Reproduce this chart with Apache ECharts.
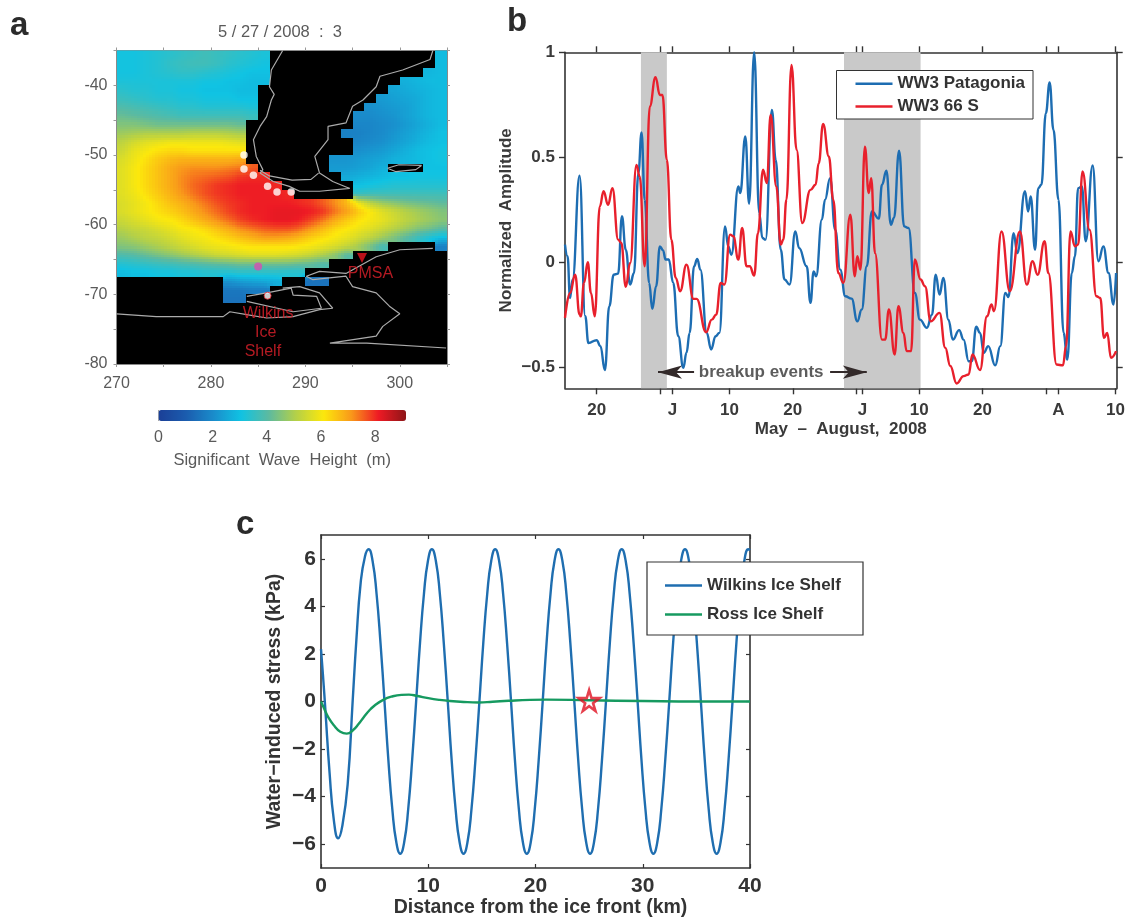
<!DOCTYPE html>
<html><head><meta charset="utf-8">
<style>html,body{margin:0;padding:0;background:#fff}#c{width:1129px;height:919px;filter:blur(0.55px)}</style>
<script src="https://cdn.jsdelivr.net/npm/echarts@6/dist/echarts.min.js"></script>
</head><body><div id="c"></div>
<script>
const _ = null;
// Panel a: significant wave height (m), 1.25 degree cells, north to south, west to east; null is land
const waveRows = [
[3.1,3.1,3.2,3.3,3.4,3.5,3.6,3.7,3.6,3.5,3.4,3.3,3.2,_,_,_,_,_,_,_,_,_,_,_,_,_,_,2.9],
[3.1,3.1,3.2,3.3,3.5,3.6,3.7,3.7,3.6,3.4,3.3,3.2,3.1,_,_,_,_,_,_,_,_,_,_,_,_,_,_,2.9],
[3.1,3.1,3.2,3.3,3.4,3.5,3.5,3.4,3.3,3.2,3.1,3.0,3.0,_,_,_,_,_,_,_,_,_,_,_,_,_,2.8,2.9],
[3.2,3.2,3.2,3.2,3.2,3.2,3.2,3.1,3.1,3.0,3.0,2.9,2.9,_,_,_,_,_,_,_,_,_,_,_,2.7,2.8,2.9,2.9],
[3.4,3.3,3.3,3.2,3.2,3.1,3.1,3.0,3.0,3.0,2.9,2.9,_,_,_,_,_,_,_,_,_,_,_,2.5,2.6,2.7,2.8,2.9],
[3.6,3.5,3.4,3.3,3.3,3.2,3.2,3.1,3.1,3.1,3.0,3.0,_,_,_,_,_,_,_,_,_,_,2.3,2.4,2.5,2.6,2.8,2.9],
[3.9,3.8,3.7,3.6,3.5,3.4,3.4,3.3,3.3,3.3,3.3,3.2,_,_,_,_,_,_,_,_,_,2.1,2.2,2.3,2.4,2.6,2.8,2.9],
[4.2,4.1,4.0,3.9,3.8,3.7,3.7,3.7,3.7,3.7,3.7,3.6,_,_,_,_,_,_,_,_,2.0,2.0,2.1,2.2,2.4,2.6,2.8,2.9],
[4.5,4.5,4.4,4.3,4.3,4.3,4.3,4.3,4.3,4.3,4.2,_,_,_,_,_,_,_,_,_,1.9,1.9,2.0,2.1,2.3,2.5,2.7,2.9],
[4.8,4.9,5.0,5.0,5.0,5.0,5.1,5.1,5.1,5.0,4.9,_,_,_,_,_,_,_,_,1.8,1.8,1.9,2.0,2.2,2.4,2.6,2.8,3.0],
[5.2,5.5,5.7,5.8,5.9,5.9,5.9,5.9,5.9,5.8,5.7,_,_,_,_,_,_,_,_,_,1.9,2.0,2.1,2.3,2.5,2.7,2.9,3.0],
[5.4,5.8,6.0,6.2,6.3,6.3,6.2,6.2,6.2,6.2,6.2,_,_,_,_,_,_,_,_,_,2.1,2.2,2.3,2.5,2.7,2.9,3.0,3.1],
[5.6,5.9,6.2,6.5,6.7,6.8,6.8,6.8,6.8,6.8,6.9,_,_,_,_,_,_,_,2.2,2.2,2.3,2.4,2.5,2.7,2.8,2.9,3.0,3.1],
[5.7,6.0,6.3,6.6,6.9,7.1,7.2,7.2,7.2,7.3,7.4,7.6,_,_,_,_,_,_,2.3,2.3,2.4,2.5,2.7,_,_,_,3.0,3.0],
[5.7,6.0,6.3,6.6,6.9,7.2,7.4,7.5,7.6,7.7,7.9,8.0,8.0,_,_,_,_,_,_,2.6,2.7,2.8,2.9,3.0,3.0,3.1,3.1,3.1],
[5.7,6.0,6.3,6.6,6.9,7.2,7.5,7.7,7.9,8.0,8.1,8.1,8.1,8.0,_,_,_,_,_,_,3.0,3.1,3.2,3.3,3.3,3.3,3.3,3.3],
[5.7,5.9,6.2,6.5,6.8,7.1,7.4,7.7,7.9,8.0,8.1,8.1,8.1,8.1,8.0,_,_,_,_,_,3.6,3.7,3.7,3.7,3.7,3.7,3.7,3.7],
[5.6,5.8,6.0,6.3,6.6,6.8,7.1,7.4,7.7,7.9,8.0,8.1,8.1,8.1,8.1,8.0,7.9,7.6,7.2,6.7,5.9,5.2,4.8,4.6,4.4,4.3,4.2,4.1],
[5.6,5.8,6.0,6.2,6.4,6.6,6.9,7.2,7.5,7.8,8.0,8.1,8.1,8.2,8.2,8.2,8.1,7.9,7.4,7.0,6.5,6.1,5.7,5.4,5.1,4.9,4.7,4.5],
[5.4,5.6,5.8,6.0,6.1,6.3,6.6,6.9,7.2,7.5,7.8,8.0,8.1,8.2,8.2,8.1,7.8,7.4,6.9,6.5,6.2,6.0,5.8,5.5,5.2,5.0,4.8,4.6],
[5.1,5.3,5.4,5.6,5.8,6.0,6.1,6.3,6.6,6.9,7.2,7.4,7.6,7.7,7.7,7.5,7.1,6.7,6.3,6.1,5.9,5.7,5.4,5.1,4.8,4.5,4.3,4.0],
[4.8,5.0,5.2,5.3,5.5,5.7,5.9,6.0,6.2,6.4,6.6,6.8,7.0,7.0,6.9,6.7,6.4,6.2,6.0,5.8,5.5,5.2,4.8,4.4,4.0,3.6,3.2,2.9],
[4.5,4.6,4.8,5.0,5.2,5.4,5.6,5.8,5.9,6.0,6.1,6.2,6.2,6.2,6.2,6.1,6.0,5.8,5.6,5.3,4.9,4.4,3.8,_,_,_,_,1.8],
[3.9,4.0,4.2,4.4,4.6,4.8,5.0,5.2,5.4,5.5,5.6,5.7,5.7,5.7,5.6,5.5,5.3,5.0,4.6,4.0,_,_,_,_,_,_,_,_],
[3.3,3.4,3.5,3.6,3.7,3.8,3.9,4.0,4.1,4.2,4.3,4.3,4.3,4.3,4.3,4.2,4.1,3.9,_,_,_,_,_,_,_,_,_,_],
[2.9,3.0,3.0,3.1,3.1,3.2,3.2,3.3,3.3,3.3,3.4,3.4,3.4,3.4,3.3,3.3,_,_,_,_,_,_,_,_,_,_,_,_],
[_,_,_,_,_,_,_,_,_,2.2,2.4,2.5,2.6,2.7,_,_,1.5,1.5,_,_,_,_,_,_,_,_,_,_],
[_,_,_,_,_,_,_,_,_,1.6,1.6,1.7,1.7,_,_,_,_,_,_,_,_,_,_,_,_,_,_,_],
[_,_,_,_,_,_,_,_,_,1.5,1.5,_,_,_,_,_,_,_,_,_,_,_,_,_,_,_,_,_]
];
const waveColors = ['#1b3f97','#1b5cae','#1a8ccb','#10c3e3','#5cbaa0','#b4d048','#fce80c','#f99a1a','#ee1a24','#8e1518'];
const coastChile = [[287.6,-35],[286.4,-37.8],[286.2,-40.2],[286.7,-41.3],[286.4,-42.1],[285.9,-44.5],[285.2,-45.9],[284.5,-47.8],[284.8,-50.2],[285.5,-52.1],[285.2,-52.6],[286.6,-53.8],[288.3,-54.5],[289.4,-55.2],[291.5,-55.2],[294.7,-54.8],[292.9,-53.8],[291.5,-52.6],[291,-50.2],[292.4,-47.8],[292.4,-45.9],[294.3,-45.4],[295,-43],[296.1,-42.1],[297.5,-40.2],[297.9,-38.7],[300.3,-37.8],[303.2,-36.3],[303.5,-35]];
const coastFuego = [[285.2,-52.2],[286.2,-53],[288.6,-53.6],[290.6,-53.5],[291.4,-52.6]];
const coastFalkland = [[298.7,-51.9],[299.9,-51.4],[302.3,-51.5],[301.7,-52.1],[299.6,-52.4],[298.7,-51.9]];
const coastAntarctica = [[270,-72.8],[274.2,-73.2],[281.3,-73.2],[282,-72.5],[283.8,-72.9],[285.9,-73.4],[288.7,-73.2],[291.5,-72.2],[292.9,-72],[291.5,-69.8],[289.4,-68.9],[287.6,-69.1]];
const coastPeninsula = [[303.5,-63.4],[300,-63.6],[297.5,-64.6],[294.3,-67],[291.5,-66.7],[290.1,-67.4],[290.8,-67.9],[294.3,-67.4],[295,-68.9],[297.5,-69.8],[298.9,-71.7],[300,-72.8],[298.2,-74.6],[297.5,-76],[292.6,-77],[296.5,-77],[304.9,-77.7]];
const coastWilkins = [[283.8,-70.3],[285.9,-69.8],[288.5,-69.1],[288.7,-70.1],[291.2,-70.3],[291.7,-72],[288.7,-72.5],[283.8,-71]];
const pressureSites = [[283.5,-50],[283.5,-52],[284.5,-52.9],[286,-54.5],[287,-55.3],[288.5,-55.3]];
const wilkinsSite = [[286,-70.2]];
const offshoreSite = [[285,-66]];
const pmsaSite = [[296,-64.8]];
const placeNames = ['PMSA','Wilkins','Ice','Shelf'];
const placeCoords = [[296.9,-67],[286.05,-72.7],[285.8,-75.5],[285.5,-78.2]];
// Panel b: day numbers count from 1 May 2008
const patagoniaDays = [15,15.4,15.8,16.2,17.3,18.2,18.7,20,20.6,21.3,22,22.7,23.4,24,24.6,25.3,25.9,26.6,27.1,27.6,28.3,28.8,29.4,30,30.5,30.9,31.4,32.1,32.9,33.7,34.2,34.7,35.4,35.9,36.4,37.4,38.1,38.8,39.4,40.3,40.8,41.3,42.4,42.7,43.5,44.1,44.9,45.7,46.2,46.7,47.7,48.3,49.1,49.7,50.5,51.4,52,53.2,53.8,54.3,54.7,55.6,56.1,56.9,57.7,58.5,59.3,60.3,61.2,61.9,62.7,63.5,64.6,65.1,65.8,66.5,67,67.8,68.6,69.3,70.3,71.1,72.2,73,73.6,74.2,74.8,75.6,76.3,77.3,78,78.8,79.3,80,80.6,81.2,81.9,83,83.8,84.6,85.1,85.9,86.5,87.7,88.2,88.6,89.3,89.8,90.3,91,91.6,92.2,93,93.8,94.4,95.1,95.6,96.1,96.7,97.3,98.4,99.3,100.1,100.9,101.7,102.1];
const patagoniaValues = [.084,.029,-.17,-.082,.412,-.257,-.384,-.371,-.399,-.513,-.209,-.059,-.054,.219,.06,-.106,-.051,.425,.618,.298,-.098,-.222,-.114,.076,.057,.013,.013,-.098,-.352,-.502,-.431,-.336,-.019,.016,-.035,-.336,-.415,-.352,-.336,.171,.076,.036,.361,.33,.599,.279,1,.235,.116,.108,.726,.488,.06,-.082,-.106,.147,.068,-.019,-.193,-.043,-.067,.203,.298,.401,.155,-.035,-.162,-.173,-.281,-.225,-.019,.242,.208,.369,.436,.179,.211,.531,.171,.163,-.146,-.273,-.312,-.249,-.059,-.154,-.074,-.273,-.368,-.323,-.368,-.471,-.471,-.307,-.336,-.431,-.399,-.491,-.399,-.146,-.165,.139,.044,.338,.242,.314,.06,.353,.369,.71,.856,.631,.298,-.336,-.463,-.051,.029,.353,.361,.1,.461,.005,.076,-.051,-.201,-.051];
const south66Days = [15,15.8,16.6,17.3,17.5,18,18.6,19.1,19.7,20.5,21.1,21.8,22.5,23.4,23.9,24.6,25.3,26.3,26.8,27.6,28.4,29.3,30,30.4,31.1,31.8,32.5,33.2,34.2,35.3,35.8,37.3,38.2,38.9,39.6,40.2,41.1,41.6,42.4,43,43.7,44.2,44.9,45.5,46.3,46.9,47.5,48.4,49.1,49.5,50,50.8,51.6,52.5,53.8,54.6,55.1,55.8,56.7,57.4,58.2,59,60.1,60.8,61.2,61.7,62.4,63,63.4,64,65.1,65.6,66.2,67.1,67.7,68.5,69,69.7,70.3,71.2,71.9,72.8,74.2,75.1,75.9,76.9,78,78.8,79.4,80.6,81.7,82.4,82.8,84,85.3,86.9,88,88.9,89.7,90.8,91.4,92.7,93.7,94.2,94.9,95.6,96.1,96.8,97.9,99,99.6,100.2,100.7,101.3,102.1];
const south66Values = [-.265,-.146,-.059,-.249,-.257,-.098,0,-.146,-.257,.266,.338,.274,.353,.108,.092,-.117,-.003,.464,.409,-.019,.742,.881,.797,.797,.488,.108,-.074,-.138,-.011,-.174,-.174,-.333,-.273,-.249,-.098,-.106,.132,.124,.013,.163,-.019,-.019,-.063,.139,.441,.377,.702,.361,.084,.108,.298,.94,.536,.187,.345,.369,.472,.659,.504,.298,-.051,-.098,.227,-.067,.029,-.035,.551,.33,.401,.044,-.368,-.368,-.225,-.439,-.209,-.336,-.423,-.423,.013,-.082,-.114,-.281,-.241,-.407,-.494,-.577,-.542,-.534,-.439,-.513,-.257,-.201,-.233,.147,-.138,.147,-.106,.005,-.059,.1,-.051,-.487,-.491,-.399,.147,.076,.084,.433,.155,-.162,-.17,-.36,-.336,-.455,-.423];
const bandDays = [[27,31.1],[59.1,71.2]];
const bTickDays = [20,30,32,41,51,61,62,71,81,91,93,102];
const bLabelDays = [20,32,41,51,62,71,81,93,102];
const bLabelTexts = ['20','J','10','20','J','10','20','A','10'];
const bValueTicks = [-0.5,0,0.5,1];
const arrowLeftDays = [35.4,29.7];
const arrowRightDays = [56.9,62.7];
const arrowLevel = -0.523;
const breakupLabel = [46,-0.523];
// Panel c
const wilkinsKm = [0,.2,.4,.8,1.2,1.6,2,2.5,2.95,3.3,3.7,4.1,
4.44,4.81,5.18,5.55,5.92,6.28,6.65,7.02,7.39,7.76,8.13,8.5,8.87,9.23,9.6,9.97,
10.34,10.71,11.08,11.45,11.82,12.18,12.55,12.92,13.29,13.66,14.03,14.4,14.77,15.13,15.5,15.87,
16.24,16.61,16.98,17.35,17.72,18.08,18.45,18.82,19.19,19.56,19.93,20.3,20.67,21.03,21.4,21.77,
22.14,22.51,22.88,23.25,23.62,23.98,24.35,24.72,25.09,25.46,25.83,26.2,26.57,26.93,27.3,27.67,
28.04,28.41,28.78,29.15,29.52,29.88,30.25,30.62,30.99,31.36,31.73,32.1,32.47,32.83,33.2,33.57,
33.94,34.31,34.68,35.05,35.42,35.78,36.15,36.52,36.89,37.26,37.63,38,38.37,38.73,39.1,39.47,39.84,40];
const wilkinsStress = [2.2,1,-.3,-3,-5,-5.75,-5.2,-3.4,0,2.6,5,6.1,
6.4,5.91,4.53,2.45,0,-2.45,-4.53,-5.91,-6.4,-5.91,-4.53,-2.45,0,2.45,4.53,5.91,
6.4,5.91,4.53,2.45,0,-2.45,-4.53,-5.91,-6.4,-5.91,-4.53,-2.45,0,2.45,4.53,5.91,
6.4,5.91,4.53,2.45,0,-2.45,-4.53,-5.91,-6.4,-5.91,-4.53,-2.45,0,2.45,4.53,5.91,
6.4,5.91,4.53,2.45,0,-2.45,-4.53,-5.91,-6.4,-5.91,-4.53,-2.45,0,2.45,4.53,5.91,
6.4,5.91,4.53,2.45,0,-2.45,-4.53,-5.91,-6.4,-5.91,-4.53,-2.45,0,2.45,4.53,5.91,
6.4,5.91,4.53,2.45,0,-2.45,-4.53,-5.91,-6.4,-5.91,-4.53,-2.45,0,2.45,4.53,5.91,6.4,6.36];
const rossKm = [0,.3,.7,1.2,1.8,2.4,3,3.5,4,4.5,5,5.8,6.7,7.5,8.2,9,10,11,12,13.3,14.7,16,17.5,19.5,21,25,30,35,40];
const rossStress = [0,-.3,-.68,-1,-1.27,-1.35,-1.2,-.95,-.65,-.38,-.17,.07,.22,.28,.29,.23,.14,.07,.02,-.02,-.04,-.01,.03,.07,.08,.05,.02,0,0];
const cStar = [[25,.04]];
const cValueTicks = [-6,-4,-2,0,2,4,6];

const FONT = '"Liberation Sans", Arial, sans-serif';
const zip = (a,b)=>a.map((v,i)=>[v,b[i]]);
const CELL = 1.25, LON0 = 270, LAT0 = -35, VMAX = 9.14, SUB = 4;
const cellData = [];
waveRows.forEach((row,r)=>row.forEach((v,c)=>{ if(v!==null) cellData.push([LON0+(c+.5)*CELL, LAT0-(r+.5)*CELL, v, r, c]); }));
// shade within a typed cell toward its typed water neighbours, as pcolor with shading interp does
function shadeAt(lon,lat){
  const cf=(lon-LON0)/CELL-.5, rf=(LAT0-lat)/CELL-.5, c0=Math.floor(cf), r0=Math.floor(rf), fc=cf-c0, fr=rf-r0;
  let s=0,w=0;
  [[r0,c0,(1-fr)*(1-fc)],[r0,c0+1,(1-fr)*fc],[r0+1,c0,fr*(1-fc)],[r0+1,c0+1,fr*fc]].forEach(([r,c,k])=>{
    const row=waveRows[r]; const v=row?row[c]:null;
    if(v!==null&&v!==undefined){s+=v*k;w+=k;}
  });
  return s/w;
}
function renderCell(params,api){
  const lon=api.value(0),lat=api.value(1),children=[],d=CELL/SUB;
  for(let i=0;i<SUB;i++)for(let j=0;j<SUB;j++){
    const x=lon-CELL/2+i*d,y=lat+CELL/2-j*d;
    const a=api.coord([x,y]),b=api.coord([x+d,y-d]);
    const ax=Math.round(a[0]),ay=Math.round(a[1]),bx=Math.round(b[0]),by=Math.round(b[1]);
    children.push({type:'rect',silent:true,shape:{x:ax,y:ay,width:bx-ax,height:by-ay},
      style:{fill:echarts.color.lerp(Math.min(1,shadeAt(x+d/2,y-d/2)/VMAX),waveColors),lineWidth:0}});
  }
  return {type:'group',children};
}

const greyLine = {show:true,lineStyle:{color:'#8a8a8a',width:1}};
const darkLine = {show:true,onZero:false,lineStyle:{color:'#333',width:1.6}};
const aTick = {show:true,length:3,lineStyle:{color:'#999'}};
const aLabel = {color:'#5a5a5a',fontFamily:FONT,fontSize:16};
const tenOnly = v=>(v%10===0)?String(v):'';
const bAxisLabel = {color:'#3a3a3a',fontFamily:FONT,fontSize:17,fontWeight:'bold'};
const bTick = {show:true,length:6,lineStyle:{color:'#333',width:1.4}};
const cAxisLabel = {color:'#333',fontFamily:FONT,fontSize:21,fontWeight:'bold'};
const cTick = {show:true,inside:true,length:4,lineStyle:{color:'#333',width:1.2}};
const minus = v=>v<0?'\u2212'+Math.abs(v):String(v);
const lineIcon = 'rect';

const option = {
  animation:false,
  backgroundColor:'#fff',
  textStyle:{fontFamily:FONT},
  grid:[
    {left:116.5,top:50.5,width:330.5,height:313.5,show:true,backgroundColor:'#000',borderWidth:0},
    {left:158.5,top:410,width:247.5,height:11,show:false},
    {left:565,top:52.3,width:551.7,height:336,show:false},
    {left:321,top:535,width:429,height:334.5,show:false}
  ],
  visualMap:[{type:'continuous',seriesIndex:0,dimension:2,min:0,max:VMAX,orient:'horizontal',left:158.5,top:410,itemWidth:11,itemHeight:247.5,
    text:['',''],showLabel:false,calculable:false,realtime:false,padding:0,inRange:{color:waveColors},textStyle:{fontSize:1,color:'transparent'}}],
  xAxis:[
    {gridIndex:0,type:'value',min:270,max:305,interval:5,position:'bottom',splitLine:{show:false},axisLine:greyLine,axisTick:aTick,axisLabel:{...aLabel,margin:12,formatter:tenOnly,showMaxLabel:true,showMinLabel:true}},
    {gridIndex:0,type:'value',min:270,max:305,interval:5,position:'top',splitLine:{show:false},axisLine:greyLine,axisTick:aTick,axisLabel:{show:false}},
    {gridIndex:1,type:'value',min:0,max:VMAX,interval:2,position:'bottom',splitLine:{show:false},axisLine:{show:false},
      axisTick:{show:true,inside:true,length:11,lineStyle:{color:'rgba(60,60,60,.45)'}},
      axisLabel:{...aLabel,margin:9,showMaxLabel:false},name:'Significant  Wave  Height  (m)',nameLocation:'middle',nameGap:31,nameTextStyle:{...aLabel,fontSize:16.5}},
    {gridIndex:2,type:'value',min:15,max:102.2,position:'bottom',splitLine:{show:false},axisLine:darkLine,
      axisTick:{...bTick,customValues:bTickDays},
      axisLabel:{...bAxisLabel,margin:14,customValues:bLabelDays,formatter:v=>bLabelTexts[bLabelDays.indexOf(v)]},
      name:'May  \u2013  August,  2008',nameLocation:'middle',nameGap:33,nameTextStyle:{...bAxisLabel}},
    {gridIndex:2,type:'value',min:15,max:102.2,position:'top',splitLine:{show:false},axisLine:darkLine,axisTick:{...bTick,customValues:bTickDays},axisLabel:{show:false}},
    {gridIndex:3,type:'value',min:0,max:40,interval:10,position:'bottom',splitLine:{show:false},axisLine:darkLine,axisTick:cTick,
      axisLabel:{...cAxisLabel,margin:8},name:'Distance from the ice front (km)',nameLocation:'middle',nameGap:30,nameTextStyle:{...cAxisLabel,fontSize:19.5,padding:[0,0,0,10]}},
    {gridIndex:3,type:'value',min:0,max:40,interval:10,position:'top',splitLine:{show:false},axisLine:darkLine,axisTick:cTick,axisLabel:{show:false}}
  ],
  yAxis:[
    {gridIndex:0,type:'value',min:-80,max:-35,interval:5,position:'left',splitLine:{show:false},axisLine:greyLine,axisTick:aTick,axisLabel:{...aLabel,margin:9,formatter:tenOnly}},
    {gridIndex:0,type:'value',min:-80,max:-35,interval:5,position:'right',splitLine:{show:false},axisLine:greyLine,axisTick:aTick,axisLabel:{show:false}},
    {gridIndex:1,type:'value',min:0,max:1,show:false},
    {gridIndex:2,type:'value',min:-0.6,max:1,position:'left',splitLine:{show:false},axisLine:darkLine,
      axisTick:{...bTick,customValues:bValueTicks},
      axisLabel:{...bAxisLabel,margin:10,customValues:bValueTicks,formatter:minus},
      name:'Normalized  Amplitude',nameLocation:'middle',nameGap:50,nameTextStyle:{...bAxisLabel}},
    {gridIndex:2,type:'value',min:-0.6,max:1,position:'right',splitLine:{show:false},axisLine:darkLine,axisTick:{...bTick,customValues:bValueTicks},axisLabel:{show:false}},
    {gridIndex:3,type:'value',min:-7,max:7,position:'left',splitLine:{show:false},axisLine:darkLine,
      axisTick:{...cTick,customValues:cValueTicks},
      axisLabel:{...cAxisLabel,margin:5,customValues:cValueTicks,formatter:minus},
      name:'Water\u2212induced stress (kPa)',nameLocation:'middle',nameGap:36,nameTextStyle:{...cAxisLabel,fontSize:19.5}},
    {gridIndex:3,type:'value',min:-7,max:7,position:'right',splitLine:{show:false},axisLine:darkLine,axisTick:{...cTick,customValues:cValueTicks},axisLabel:{show:false}}
  ],
  legend:[
    {left:836.5,top:70.5,orient:'vertical',selectedMode:false,icon:lineIcon,data:['WW3 Patagonia','WW3 66 S'],itemWidth:37,itemHeight:2.4,itemGap:5.7,padding:[4.8,8,4,19],
      backgroundColor:'#fff',borderColor:'#333',borderWidth:1,textStyle:{fontFamily:FONT,fontSize:17,fontWeight:'bold',color:'#333'},z:20},
    {left:647,top:562,orient:'vertical',selectedMode:false,icon:lineIcon,data:['Wilkins Ice Shelf','Ross Ice Shelf'],itemWidth:37,itemHeight:2.4,itemGap:12,padding:[15,22,12,18],
      backgroundColor:'#fff',borderColor:'#333',borderWidth:1.2,textStyle:{fontFamily:FONT,fontSize:17,fontWeight:'bold',color:'#333'},z:20}
  ],
  graphic:[
    {type:'text',left:10,top:9,style:{text:'a',font:'bold 33px '+FONT,fill:'#2b2b2b'}},
    {type:'text',left:507,top:5,style:{text:'b',font:'bold 33px '+FONT,fill:'#2b2b2b'}},
    {type:'text',left:236,top:508,style:{text:'c',font:'bold 33px '+FONT,fill:'#2b2b2b'}},
    {type:'text',left:218,top:24,style:{text:'5 / 27 / 2008  :  3',font:'16.5px '+FONT,fill:'#5a5a5a'}}
  ],
  series:[
    {type:'custom',name:'Significant wave height',xAxisIndex:0,yAxisIndex:0,data:cellData,renderItem:renderCell,encode:{x:0,y:1},progressive:0,clip:true,silent:true,z:2},
    ...[coastChile,coastFuego,coastFalkland,coastAntarctica,coastPeninsula,coastWilkins].map(c=>({type:'line',xAxisIndex:0,yAxisIndex:0,data:c,symbol:'none',lineStyle:{color:'#ababab',width:1.2},z:3,silent:true})),
    {type:'scatter',xAxisIndex:0,yAxisIndex:0,data:pressureSites,symbolSize:7.5,itemStyle:{color:'#fff'},z:4},
    {type:'scatter',xAxisIndex:0,yAxisIndex:0,data:wilkinsSite,symbolSize:7,itemStyle:{color:'#fff',borderColor:'#e0202a',borderWidth:1},z:4},
    {type:'scatter',xAxisIndex:0,yAxisIndex:0,data:offshoreSite,symbolSize:8,itemStyle:{color:'#d84fb0'},z:4},
    {type:'scatter',xAxisIndex:0,yAxisIndex:0,data:pmsaSite,symbol:'triangle',symbolRotate:180,symbolSize:10,itemStyle:{color:'#e8141e'},z:4},
    {type:'scatter',xAxisIndex:0,yAxisIndex:0,symbolSize:0,z:5,silent:true,
      data:placeCoords.map((c,i)=>({value:c,name:placeNames[i]})),
      label:{show:true,position:'inside',formatter:p=>p.name,color:'#e0202a',fontFamily:FONT,fontSize:16}},
    {type:'line',name:'WW3 Patagonia',xAxisIndex:3,yAxisIndex:3,data:zip(patagoniaDays,patagoniaValues),symbol:'none',smooth:.45,smoothMonotone:'x',z:4,
      lineStyle:{color:'#1d6db2',width:2.4},itemStyle:{color:'#1d6db2'},
      markArea:{silent:true,itemStyle:{color:'#c9c9c9'},data:bandDays.map(b=>[{xAxis:b[0]},{xAxis:b[1]}])}},
    {type:'line',name:'WW3 66 S',xAxisIndex:3,yAxisIndex:3,data:zip(south66Days,south66Values),symbol:'none',smooth:.45,smoothMonotone:'x',z:5,
      lineStyle:{color:'#e8202c',width:2.4},itemStyle:{color:'#e8202c'},
      markLine:{silent:true,symbol:['none','arrow'],symbolSize:[10,24],label:{show:false},lineStyle:{color:'#332a2a',width:2,type:'solid'},animation:false,
        data:[
          [{coord:[arrowLeftDays[0],arrowLevel]},{coord:[arrowLeftDays[1],arrowLevel]}],
          [{coord:[arrowRightDays[0],arrowLevel]},{coord:[arrowRightDays[1],arrowLevel]}]
        ]}},
    {type:'scatter',xAxisIndex:3,yAxisIndex:3,data:[breakupLabel],symbolSize:0,silent:true,z:6,
      label:{show:true,position:'inside',formatter:'breakup events',color:'#333',fontFamily:FONT,fontSize:17,fontWeight:'bold'}},
    {type:'line',name:'Wilkins Ice Shelf',xAxisIndex:5,yAxisIndex:5,data:zip(wilkinsKm,wilkinsStress),symbol:'none',smooth:.5,z:4,
      lineStyle:{color:'#1f6eb0',width:2.4},itemStyle:{color:'#1f6eb0'}},
    {type:'line',name:'Ross Ice Shelf',xAxisIndex:5,yAxisIndex:5,data:zip(rossKm,rossStress),symbol:'none',smooth:.5,z:5,
      lineStyle:{color:'#169a60',width:2.4},itemStyle:{color:'#169a60'}},
    {type:'scatter',xAxisIndex:5,yAxisIndex:5,data:cStar,symbol:'path://M50 0L61 35L98 35L68 57L79 91L50 70L21 91L32 57L2 35L39 35Z',symbolSize:21,z:6,
      itemStyle:{color:'rgba(255,255,255,0)',borderColor:'#e01020',borderWidth:2.6}}
  ]
};
echarts.init(document.getElementById('c'),null,{renderer:'canvas'}).setOption(option);
</script></body></html>
